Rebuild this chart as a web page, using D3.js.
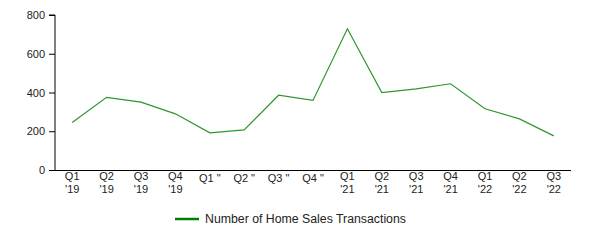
<!DOCTYPE html>
<html>
<head>
<meta charset="utf-8">
<script src="https://cdn.jsdelivr.net/npm/d3@7"></script>
<style>
  body { margin: 0; background: #fff; }
  svg text { font-family: "Liberation Sans", Arial, sans-serif; }
</style>
</head>
<body>
<div id="container"></div>
<script>
let width = 590;
let height = 240;
let margin = ({ top: 15, right: 19, bottom: 70, left: 55 });

// quarter labels, two lines each (2020 labels were rendered as one line)
let quarters = ["Q1", "Q2", "Q3", "Q4", "Q1 \"", "Q2 \"", "Q3 \"", "Q4 \"", "Q1", "Q2", "Q3", "Q4", "Q1", "Q2", "Q3"];
let years = ["'19", "'19", "'19", "'19", "", "", "", "", "'21", "'21", "'21", "'21", "'22", "'22", "'22"];
let transactions = [245, 375, 350, 290, 192, 207, 386, 359, 729, 400, 419, 445, 316, 264, 176];
let y_ticks = [0, 200, 400, 600, 800];
let series_name = "Number of Home Sales Transactions";

let svg = d3.select("#container")
  .append("svg")
  .attr("width", width)
  .attr("height", height);

let x = d3.scaleBand()
  .domain(d3.range(quarters.length))
  .range([margin.left, width - margin.right]);

let y = d3.scaleLinear()
  .domain([0, 800])
  .range([height - margin.bottom, margin.top]);

// y axis
svg.append("g")
  .attr("transform", "translate(" + margin.left + ",0)")
  .call(d3.axisLeft(y).tickValues(y_ticks).tickSize(6).tickPadding(4))
  .call(g => g.select(".domain").attr("d", "M-6," + y(800) + "H0V" + y(0)))
  .call(g => g.selectAll("line").attr("stroke", "#000"))
  .call(g => g.selectAll("text").attr("fill", "#222").style("font-size", "11px"));

// x axis
let xAxis = svg.append("g")
  .attr("transform", "translate(0," + (height - margin.bottom) + ")")
  .call(d3.axisBottom(x).tickSize(0).tickPadding(6).tickFormat(""));

xAxis.select(".domain").attr("stroke", "#000").attr("d", "M" + margin.left + ",0.5H" + (width - margin.right));

xAxis.selectAll(".tick text").remove();
xAxis.selectAll(".tick")
  .append("text")
  .attr("fill", "#222")
  .attr("text-anchor", "middle")
  .style("font-size", "11px")
  .each(function (d) {
    let t = d3.select(this);
    let single = years[d] === "";
    t.append("tspan").attr("x", 0).attr("y", single ? 4.5 : 2.5).attr("dy", "0.71em").text(quarters[d]);
    if (!single) {
      t.append("tspan").attr("x", 0).attr("y", 15.5).attr("dy", "0.71em").text(years[d]);
    }
  });

// line
let line = d3.line()
  .x((d, i) => x(i) + x.bandwidth() / 2)
  .y(d => y(d));

svg.append("path")
  .datum(transactions)
  .attr("fill", "none")
  .attr("stroke", "#2e962e")
  .attr("stroke-width", 1.2)
  .attr("d", line);

// legend
let legend = svg.append("g").attr("transform", "translate(175,219)");
legend.append("line")
  .attr("x1", 0).attr("x2", 24)
  .attr("stroke", "#008000")
  .attr("stroke-width", 2.5);
legend.append("text")
  .attr("x", 30)
  .attr("dy", "0.35em")
  .attr("fill", "#222")
  .style("font-size", "12.3px")
  .text(series_name);
</script>
</body>
</html>
